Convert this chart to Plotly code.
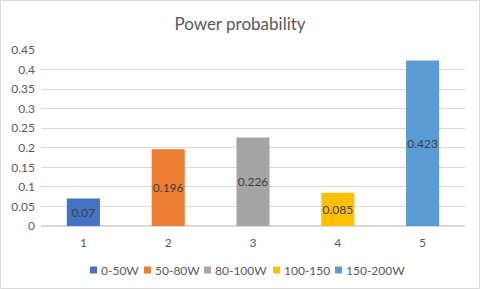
import plotly.graph_objects as go

categories = ["1", "2", "3", "4", "5"]
series_names = ["0-50W", "50-80W", "80-100W", "100-150", "150-200W"]
values = [0.07, 0.196, 0.226, 0.085, 0.423]
label_text = ["0.07", "0.196", "0.226", "0.085", "0.423"]
colors = ["#4472C4", "#ED7D31", "#A5A5A5", "#FFC000", "#5B9BD5"]
y_ticks = [0, 0.05, 0.1, 0.15, 0.2, 0.25, 0.3, 0.35, 0.4, 0.45]
y_tick_text = ["0", "0.05", "0.1", "0.15", "0.2", "0.25", "0.3", "0.35", "0.4", "0.45"]

FONT = "Lato, Open Sans, Liberation Sans, sans-serif"

L, R, T, B = 41, 15, 50, 63
W, H = 480, 289
pw, ph = W - L - R, H - T - B


def px_x(px):
    return (px - L) / pw


def px_y(py):
    return (H - B - py) / ph


fig = go.Figure()
for cat, name, val, txt, col in zip(categories, series_names, values, label_text, colors):
    fig.add_trace(go.Bar(
        x=[cat], y=[val], name=name, marker=dict(color=col, line=dict(width=0)),
        width=0.39, text=[txt], textposition="inside", insidetextanchor="middle",
        textangle=0, showlegend=False,
        textfont=dict(color="#404040", size=12, family=FONT), hoverinfo="skip",
    ))

fig.update_layout(
    width=W, height=H, barmode="overlay",
    margin=dict(l=L, r=R, t=T, b=B, pad=0, autoexpand=False),
    paper_bgcolor="white", plot_bgcolor="white",
    font=dict(family=FONT, color="#595959", size=12),
    title=dict(text="Power probability", x=0.5, xref="container", y=1 - 24 / H, yref="container",
               xanchor="center", yanchor="middle", font=dict(size=17, color="#595959", family=FONT)),
    xaxis=dict(type="category", showgrid=False, showline=False, ticks="", zeroline=False,
               ticklabelstandoff=8, tickfont=dict(size=12, color="#595959")),
    yaxis=dict(range=[0, 0.45], tickvals=y_ticks, ticktext=y_tick_text, showgrid=True,
               gridcolor="#D9D9D9", gridwidth=1, zeroline=True, zerolinecolor="#D9D9D9",
               showline=False, ticks="", ticklabelstandoff=5,
               tickfont=dict(size=12, color="#595959")),
    uniformtext=dict(minsize=12, mode="show"),
    showlegend=False,
)

# custom legend (Excel style: small square + label)
legend_marker_x = [90, 144, 204, 273, 335]
legend_y = 270
for mx, name, col in zip(legend_marker_x, series_names, colors):
    fig.add_shape(type="rect", xref="paper", yref="paper",
                  x0=px_x(mx), x1=px_x(mx + 7), y0=px_y(legend_y + 3.5), y1=px_y(legend_y - 3.5),
                  line=dict(width=0), fillcolor=col)
    fig.add_annotation(text=name, xref="paper", yref="paper", x=px_x(mx + 9), y=px_y(legend_y),
                       xanchor="left", yanchor="middle", showarrow=False,
                       font=dict(size=12, color="#595959", family=FONT))

fig.add_shape(type="rect", xref="paper", yref="paper",
              x0=-(L - 0.5) / pw, x1=1 + (R - 0.5) / pw,
              y0=-(B - 0.5) / ph, y1=1 + (T - 0.5) / ph,
              line=dict(color="#D9D9D9", width=1), fillcolor="rgba(0,0,0,0)", layer="below")

fig.write_html("out.html", config={"displayModeBar": False},
               post_script="document.body.style.margin='0';document.body.style.overflow='hidden';")
